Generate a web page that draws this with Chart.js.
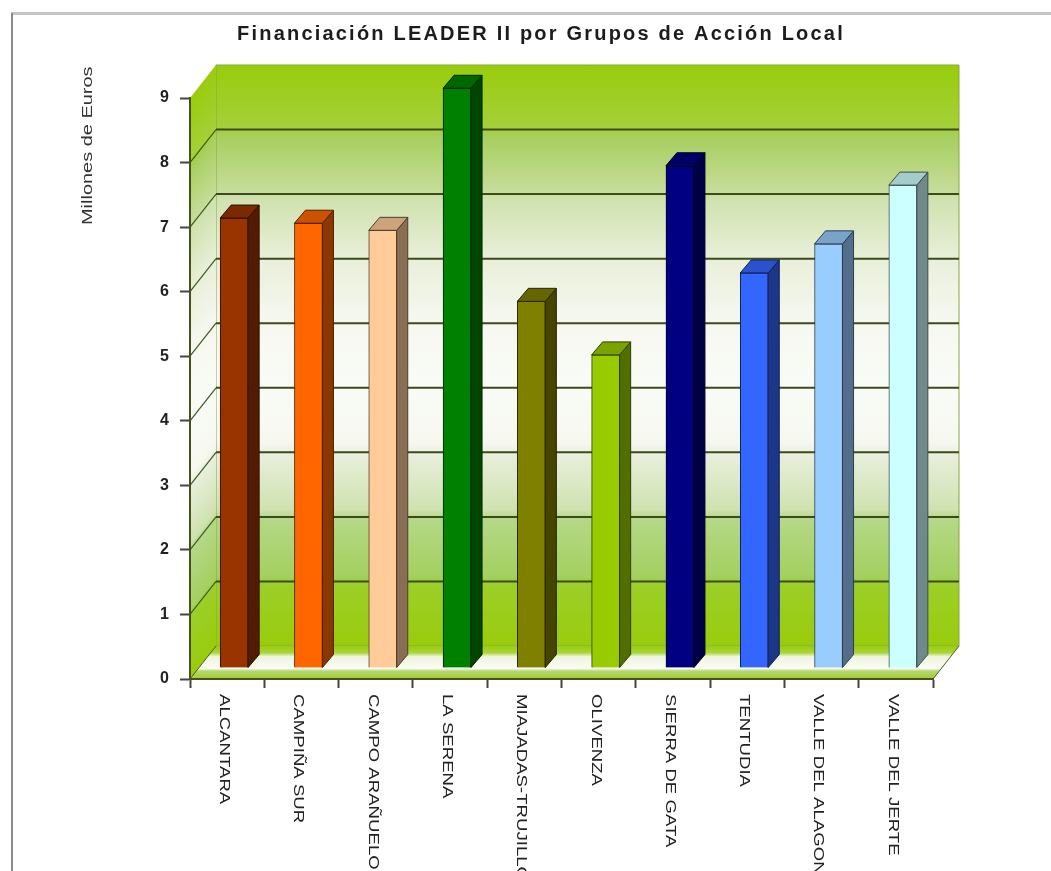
<!DOCTYPE html>
<html>
<head>
<meta charset="utf-8">
<style>
html,body{margin:0;padding:0;background:#fff;overflow:hidden}
canvas{display:block;filter:blur(0.7px)}
</style>
<script src="https://cdn.jsdelivr.net/npm/chart.js@4/dist/chart.umd.min.js"></script>
</head>
<body>
<canvas id="chart" width="1051" height="871"></canvas>
<script>
const categories = ['ALCANTARA','CAMPIÑA SUR','CAMPO ARAÑUELO','LA SERENA','MIAJADAS-TRUJILLO','OLIVENZA','SIERRA DE GATA','TENTUDIA','VALLE DEL ALAGON','VALLE DEL JERTE'];
const financiacion = [6.97,6.89,6.78,8.98,5.68,4.85,7.78,6.12,6.57,7.48];
const barColors = ['#993300','#ff6600','#ffcc99','#008000','#808000','#99cc00','#000080','#3366ff','#99ccff','#ccffff'];

const chartTitle = 'Financiación LEADER II por Grupos de Acción Local';
const axisTitle = 'Millones de Euros';

// depth of the fake 3D box and of each bar, in px
const wallDx = 26, wallDy = -33;
const barDx = 11, barDy = -13;
const barShiftX = 7, barShiftY = -11;

function shade(hex, f){
  const n = parseInt(hex.slice(1), 16);
  const c = [n>>16, (n>>8)&255, n&255].map(v=>Math.round(v*f));
  return `rgb(${c[0]},${c[1]},${c[2]})`;
}

function poly(ctx, pts, fill, stroke, lw){
  ctx.beginPath();
  pts.forEach((p,i)=> i ? ctx.lineTo(p[0],p[1]) : ctx.moveTo(p[0],p[1]));
  ctx.closePath();
  if(fill){ ctx.fillStyle = fill; ctx.fill(); }
  if(stroke){ ctx.strokeStyle = stroke; ctx.lineWidth = lw || 1; ctx.stroke(); }
}

function wallGradient(ctx, y0, y1){
  const g = ctx.createLinearGradient(0, y0, 0, y1);
  g.addColorStop(0, '#99cc0c');
  g.addColorStop(0.11, '#a5d03a');
  g.addColorStop(0.125, '#a8cf60');
  g.addColorStop(0.215, '#c5dc98');
  g.addColorStop(0.23, '#cfe2ae');
  g.addColorStop(0.33, '#e8efd8');
  g.addColorStop(0.44, '#f6f8f0');
  g.addColorStop(0.55, '#f9fbf6');
  g.addColorStop(0.65, '#f6f8f0');
  g.addColorStop(0.67, '#e8efdc');
  g.addColorStop(0.765, '#cfe2b0');
  g.addColorStop(0.78, '#b5d888');
  g.addColorStop(0.88, '#a4d060');
  g.addColorStop(0.895, '#9ccf28');
  g.addColorStop(1, '#99cc0c');
  return g;
}

const box3d = {
  id: 'box3d',
  beforeDraw(c){
    const {ctx, chartArea: a, scales: {y}} = c;
    ctx.save();
    ctx.letterSpacing = '0px';
    // page frame
    ctx.fillStyle = '#c4c4c4';
    ctx.fillRect(11, 12, 1040, 3);
    ctx.fillStyle = '#8c8c8c';
    ctx.fillRect(11, 13, 2, 858);

    // back wall
    const top = a.top + wallDy, bot = a.bottom + wallDy;
    const bl = a.left + wallDx, br = a.right + wallDx;
    ctx.fillStyle = wallGradient(ctx, top, bot);
    ctx.fillRect(bl, top, br-bl, bot-top);
    poly(ctx, [[bl,top],[br,top],[br,bot],[bl,bot]], null, '#86a83a', 1);

    // left wall, same gradient skewed along the depth
    ctx.save();
    ctx.transform(1, wallDy/wallDx, 0, 1, a.left, a.top);
    ctx.fillStyle = wallGradient(ctx, 0, a.bottom-a.top);
    ctx.fillRect(0, 0, wallDx, a.bottom-a.top);
    ctx.restore();

    // floor
    const f = ctx.createLinearGradient(0, bot, 0, a.bottom);
    f.addColorStop(0, '#99cc0c');
    f.addColorStop(0.2, '#a8d53a');
    f.addColorStop(0.32, '#eef5dd');
    f.addColorStop(0.68, '#fbfcf5');
    f.addColorStop(0.76, '#b5d870');
    f.addColorStop(1, '#a2cc30');
    poly(ctx, [[a.left,a.bottom],[bl,bot],[br,bot],[a.right,a.bottom]], f);
    ctx.beginPath();
    ctx.moveTo(a.right, a.bottom); ctx.lineTo(br, bot);
    ctx.moveTo(a.left, a.bottom); ctx.lineTo(bl, bot);
    ctx.strokeStyle = '#4a5a20'; ctx.lineWidth = 1; ctx.stroke();

    // grid lines on both walls
    for(let v=1; v<=8; v++){
      const py = y.getPixelForValue(v);
      ctx.beginPath();
      ctx.moveTo(bl, py+wallDy); ctx.lineTo(br, py+wallDy);
      ctx.strokeStyle = '#3d4a1c'; ctx.lineWidth = 2; ctx.stroke();
      ctx.beginPath();
      ctx.moveTo(a.left, py); ctx.lineTo(bl, py+wallDy);
      ctx.strokeStyle = '#3d5a1c'; ctx.lineWidth = 1.2; ctx.stroke();
    }
    ctx.restore();
    // only the chart title uses this spacing
    ctx.letterSpacing = '2.2px';
  },
  beforeDatasetsDraw(c){
    c.ctx.save();
    c.ctx.translate(barShiftX, barShiftY);
    c.ctx.letterSpacing = '0px';
  },
  afterDatasetsDraw(c){
    const ctx = c.ctx;
    c.getDatasetMeta(0).data.forEach((bar,i)=>{
      const l = bar.x - bar.width/2, r = bar.x + bar.width/2;
      const col = barColors[i], edge = shade(col, 0.3);
      poly(ctx, [[r,bar.y],[r+barDx,bar.y+barDy],[r+barDx,bar.base+barDy],[r,bar.base]], shade(col,0.54), edge, 1);
      poly(ctx, [[l,bar.y],[l+barDx,bar.y+barDy],[r+barDx,bar.y+barDy],[r,bar.y]], shade(col,0.8), edge, 1);
    });
    ctx.restore();
  },
  afterDraw(c){
    // x labels read top-down, which the tick rotation can't do
    const {ctx, chartArea: a, scales: {x}} = c;
    ctx.save();
    ctx.letterSpacing = '0px';
    ctx.fillStyle = '#222';
    ctx.font = '15px "Liberation Sans"';
    ctx.textBaseline = 'middle';
    ctx.textAlign = 'left';
    categories.forEach((name,i)=>{
      ctx.save();
      ctx.translate(x.getPixelForTick(i)-3, a.bottom+15);
      ctx.rotate(Math.PI/2);
      ctx.scale(1.24, 1);
      ctx.fillText(name, 0, 0);
      ctx.restore();
    });
    // y axis title sits above the middle of the axis, so it goes here too
    ctx.fillStyle = '#333';
    ctx.translate(88, 225);
    ctx.rotate(-Math.PI/2);
    ctx.scale(1.33, 1);
    ctx.fillText(axisTitle, 0, 0);
    ctx.restore();
  }
};

new Chart(document.getElementById('chart'), {
  type: 'bar',
  data: {
    labels: categories,
    datasets: [{
      data: financiacion,
      backgroundColor: barColors,
      borderColor: barColors.map(c=>shade(c,0.3)),
      borderWidth: 1,
      barThickness: 28,
      clip: false
    }]
  },
  plugins: [box3d],
  options: {
    responsive: false,
    animation: false,
    layout: {padding: {left: 149, right: 118, top: 0, bottom: 0}},
    plugins: {
      legend: {display: false},
      tooltip: {enabled: false},
      title: {
        display: true,
        text: chartTitle,
        color: '#1c1c1c',
        font: {family: '"Liberation Sans"', size: 20, weight: 'bold'},
        padding: {top: 22, bottom: 52}
      }
    },
    scales: {
      x: {
        afterFit(s){ s.height = 192; },
        ticks: {display: false},
        border: {color: '#46521c', width: 2},
        grid: {drawOnChartArea: false, tickLength: 9, tickColor: '#444', tickWidth: 2}
      },
      y: {
        min: 0, max: 9,
        afterFit(s){ s.width = 41; },
        ticks: {stepSize: 1, color: '#222', padding: 9, font: {family: '"Liberation Sans"', size: 16, weight: 'bold'}},
        border: {color: '#46521c', width: 2},
        grid: {drawOnChartArea: false, tickLength: 10, tickColor: '#444', tickWidth: 2}
      }
    }
  }
});
</script>
</body>
</html>
